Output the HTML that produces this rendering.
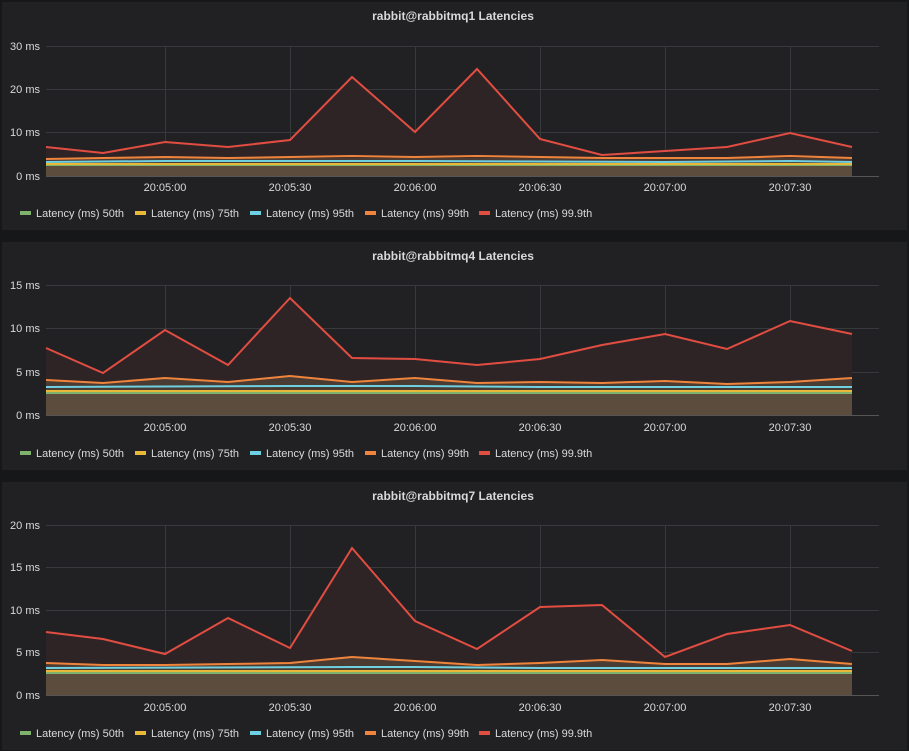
<!DOCTYPE html>
<html><head><meta charset="utf-8"><style>
html,body{margin:0;padding:0;background:#161719;width:909px;height:751px;overflow:hidden}
svg{display:block}
text{font-family:"Liberation Sans",sans-serif;fill:#d8d9da}
.t{font-size:12px;font-weight:bold;text-anchor:middle}
.y{font-size:11px;text-anchor:end}
.x{font-size:11px;text-anchor:middle}
.l{font-size:11px}
.g{stroke:#38393c;stroke-width:1}
</style></head><body>
<svg width="909" height="751" viewBox="0 0 909 751">
<rect x="2" y="2" width="905" height="228" fill="#212124"/>
<rect x="2" y="242" width="905" height="228" fill="#212124"/>
<rect x="2" y="482" width="905" height="268" fill="#212124"/>

<!-- Panel 1 -->
<text class="t" x="453" y="20">rabbit@rabbitmq1 Latencies</text>
<g class="g">
<line x1="46" y1="46.5" x2="879" y2="46.5"/><line x1="46" y1="89.5" x2="879" y2="89.5"/><line x1="46" y1="132.5" x2="879" y2="132.5"/>
<line x1="165.5" y1="46" x2="165.5" y2="176"/><line x1="290.5" y1="46" x2="290.5" y2="176"/><line x1="415.5" y1="46" x2="415.5" y2="176"/><line x1="540.5" y1="46" x2="540.5" y2="176"/><line x1="665.5" y1="46" x2="665.5" y2="176"/><line x1="790.5" y1="46" x2="790.5" y2="176"/>
</g>
<polygon fill="#2f2425" points="46,176 46,147 103,153 165,142 228,147 290,140 352,77 415,132 477,69 540,139 602,155 665,151 727,147 790,133 852,147 852,176"/>
<polygon fill="#4a3b33" points="46,176 46,158 852,158 852,176"/>
<polygon fill="#5c4c3e" points="46,176 46,165 852,165 852,176"/>
<line x1="46" y1="176.5" x2="879" y2="176.5" stroke="#555" />
<polyline fill="none" stroke="#7eb26d" stroke-width="2" points="46,165 852,165"/>
<polyline fill="none" stroke="#eab839" stroke-width="2" points="46,164 852,164"/>
<polyline fill="none" stroke="#6ed0e0" stroke-width="2" points="46,162 165,161 415,161 665,162 790,161 852,162"/>
<polyline fill="none" stroke="#ef843c" stroke-width="2" points="46,159 103,158 165,157 228,158 290,157 352,156 415,157 477,156 540,157 602,158 665,158 727,158 790,156 852,158"/>
<polyline fill="none" stroke="#e24d42" stroke-width="2" points="46,147 103,153 165,142 228,147 290,140 352,77 415,132 477,69 540,139 602,155 665,151 727,147 790,133 852,147"/>
<text class="y" x="40" y="50">30 ms</text><text class="y" x="40" y="93">20 ms</text><text class="y" x="40" y="136">10 ms</text><text class="y" x="40" y="180">0 ms</text>
<text class="x" x="165" y="191">20:05:00</text><text class="x" x="290" y="191">20:05:30</text><text class="x" x="415" y="191">20:06:00</text><text class="x" x="540" y="191">20:06:30</text><text class="x" x="665" y="191">20:07:00</text><text class="x" x="790" y="191">20:07:30</text>
<g>
<rect x="20" y="211" width="11" height="4" fill="#7eb26d"/><text class="l" x="36" y="217">Latency (ms) 50th</text>
<rect x="135" y="211" width="11" height="4" fill="#eab839"/><text class="l" x="151" y="217">Latency (ms) 75th</text>
<rect x="250" y="211" width="11" height="4" fill="#6ed0e0"/><text class="l" x="266" y="217">Latency (ms) 95th</text>
<rect x="365" y="211" width="11" height="4" fill="#ef843c"/><text class="l" x="381" y="217">Latency (ms) 99th</text>
<rect x="479" y="211" width="11" height="4" fill="#e24d42"/><text class="l" x="495" y="217">Latency (ms) 99.9th</text>
</g>

<!-- Panel 2 -->
<text class="t" x="453" y="260">rabbit@rabbitmq4 Latencies</text>
<g class="g">
<line x1="46" y1="285.5" x2="879" y2="285.5"/><line x1="46" y1="328.5" x2="879" y2="328.5"/><line x1="46" y1="372.5" x2="879" y2="372.5"/>
<line x1="165.5" y1="285" x2="165.5" y2="415"/><line x1="290.5" y1="285" x2="290.5" y2="415"/><line x1="415.5" y1="285" x2="415.5" y2="415"/><line x1="540.5" y1="285" x2="540.5" y2="415"/><line x1="665.5" y1="285" x2="665.5" y2="415"/><line x1="790.5" y1="285" x2="790.5" y2="415"/>
</g>
<polygon fill="#2f2425" points="46,415 46,348 103,373 165,330 228,365 290,298 352,358 415,359 477,365 540,359 602,345 665,334 727,349 790,321 852,334 852,415"/>
<polygon fill="#4a3b33" points="46,415 46,380 103,383 165,378 228,382 290,376 352,382 415,378 477,383 540,382 602,383 665,381 727,384 790,382 852,378 852,415"/>
<polygon fill="#5c4c3e" points="46,415 46,393 852,393 852,415"/>
<line x1="46" y1="415.5" x2="879" y2="415.5" stroke="#555"/>
<polyline fill="none" stroke="#7eb26d" stroke-width="2" points="46,393 852,393"/>
<polyline fill="none" stroke="#eab839" stroke-width="2" points="46,391 852,391"/>
<polyline fill="none" stroke="#6ed0e0" stroke-width="2" points="46,387 290,386 415,386 540,387 852,387"/>
<polyline fill="none" stroke="#ef843c" stroke-width="2" points="46,380 103,383 165,378 228,382 290,376 352,382 415,378 477,383 540,382 602,383 665,381 727,384 790,382 852,378"/>
<polyline fill="none" stroke="#e24d42" stroke-width="2" points="46,348 103,373 165,330 228,365 290,298 352,358 415,359 477,365 540,359 602,345 665,334 727,349 790,321 852,334"/>
<text class="y" x="40" y="289">15 ms</text><text class="y" x="40" y="332">10 ms</text><text class="y" x="40" y="376">5 ms</text><text class="y" x="40" y="419">0 ms</text>
<text class="x" x="165" y="431">20:05:00</text><text class="x" x="290" y="431">20:05:30</text><text class="x" x="415" y="431">20:06:00</text><text class="x" x="540" y="431">20:06:30</text><text class="x" x="665" y="431">20:07:00</text><text class="x" x="790" y="431">20:07:30</text>
<g>
<rect x="20" y="451" width="11" height="4" fill="#7eb26d"/><text class="l" x="36" y="457">Latency (ms) 50th</text>
<rect x="135" y="451" width="11" height="4" fill="#eab839"/><text class="l" x="151" y="457">Latency (ms) 75th</text>
<rect x="250" y="451" width="11" height="4" fill="#6ed0e0"/><text class="l" x="266" y="457">Latency (ms) 95th</text>
<rect x="365" y="451" width="11" height="4" fill="#ef843c"/><text class="l" x="381" y="457">Latency (ms) 99th</text>
<rect x="479" y="451" width="11" height="4" fill="#e24d42"/><text class="l" x="495" y="457">Latency (ms) 99.9th</text>
</g>

<!-- Panel 3 -->
<text class="t" x="453" y="500">rabbit@rabbitmq7 Latencies</text>
<g class="g">
<line x1="46" y1="525.5" x2="879" y2="525.5"/><line x1="46" y1="567.5" x2="879" y2="567.5"/><line x1="46" y1="610.5" x2="879" y2="610.5"/><line x1="46" y1="652.5" x2="879" y2="652.5"/>
<line x1="165.5" y1="525" x2="165.5" y2="695"/><line x1="290.5" y1="525" x2="290.5" y2="695"/><line x1="415.5" y1="525" x2="415.5" y2="695"/><line x1="540.5" y1="525" x2="540.5" y2="695"/><line x1="665.5" y1="525" x2="665.5" y2="695"/><line x1="790.5" y1="525" x2="790.5" y2="695"/>
</g>
<polygon fill="#2f2425" points="46,695 46,632 103,639 165,654 228,618 290,648 352,548 415,621 477,649 540,607 602,605 665,657 727,634 790,625 852,651 852,695"/>
<polygon fill="#4a3b33" points="46,695 46,663 103,665 165,665 228,664 290,663 352,657 415,661 477,665 540,663 602,660 665,664 727,664 790,659 852,664 852,695"/>
<polygon fill="#5c4c3e" points="46,695 46,673 852,673 852,695"/>
<line x1="46" y1="695.5" x2="879" y2="695.5" stroke="#555"/>
<polyline fill="none" stroke="#7eb26d" stroke-width="2" points="46,673 852,673"/>
<polyline fill="none" stroke="#eab839" stroke-width="2" points="46,671 852,671"/>
<polyline fill="none" stroke="#6ed0e0" stroke-width="2" points="46,668 352,667 415,667 540,668 852,668"/>
<polyline fill="none" stroke="#ef843c" stroke-width="2" points="46,663 103,665 165,665 228,664 290,663 352,657 415,661 477,665 540,663 602,660 665,664 727,664 790,659 852,664"/>
<polyline fill="none" stroke="#e24d42" stroke-width="2" points="46,632 103,639 165,654 228,618 290,648 352,548 415,621 477,649 540,607 602,605 665,657 727,634 790,625 852,651"/>
<text class="y" x="40" y="529">20 ms</text><text class="y" x="40" y="571">15 ms</text><text class="y" x="40" y="614">10 ms</text><text class="y" x="40" y="656">5 ms</text><text class="y" x="40" y="699">0 ms</text>
<text class="x" x="165" y="711">20:05:00</text><text class="x" x="290" y="711">20:05:30</text><text class="x" x="415" y="711">20:06:00</text><text class="x" x="540" y="711">20:06:30</text><text class="x" x="665" y="711">20:07:00</text><text class="x" x="790" y="711">20:07:30</text>
<g>
<rect x="20" y="731" width="11" height="4" fill="#7eb26d"/><text class="l" x="36" y="737">Latency (ms) 50th</text>
<rect x="135" y="731" width="11" height="4" fill="#eab839"/><text class="l" x="151" y="737">Latency (ms) 75th</text>
<rect x="250" y="731" width="11" height="4" fill="#6ed0e0"/><text class="l" x="266" y="737">Latency (ms) 95th</text>
<rect x="365" y="731" width="11" height="4" fill="#ef843c"/><text class="l" x="381" y="737">Latency (ms) 99th</text>
<rect x="479" y="731" width="11" height="4" fill="#e24d42"/><text class="l" x="495" y="737">Latency (ms) 99.9th</text>
</g>
</svg>
</body></html>
